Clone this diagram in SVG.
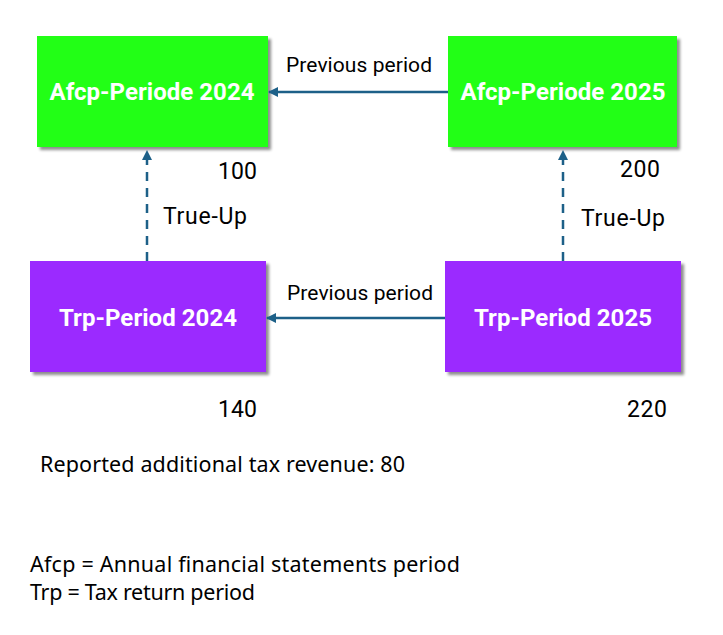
<svg xmlns="http://www.w3.org/2000/svg" width="723" height="635" viewBox="0 0 723 635">
<defs>
<filter id="sh" x="-10%" y="-10%" width="130%" height="130%">
<feGaussianBlur in="SourceAlpha" stdDeviation="1.5"/>
<feOffset dx="3" dy="3" result="b"/>
<feComponentTransfer><feFuncA type="linear" slope="0.45"/></feComponentTransfer>
<feMerge><feMergeNode/><feMergeNode in="SourceGraphic"/></feMerge>
</filter>
<marker id="ah" viewBox="0 0 10 10" refX="9" refY="5" markerWidth="4" markerHeight="4" orient="auto" markerUnits="strokeWidth">
<path d="M0,0 L10,5 L0,10 z" fill="#1d6088"/>
</marker>
</defs>
<style>
.box{filter:url(#sh)}
.g{fill:#22ff16}
.p{fill:#9b2bff}
.nt{font-family:Roboto,"Liberation Sans",sans-serif;font-weight:bold;font-size:24px;fill:#fff;text-anchor:middle}
.lb{font-family:Roboto,"Liberation Sans",sans-serif;font-size:21px;fill:#000}
.n{font-family:Roboto,"Liberation Sans",sans-serif;font-size:23px;fill:#000}
.ft{font-family:"Noto Sans","Open Sans",sans-serif;font-size:21.5px;fill:#000}
.c{stroke:#1d6088;stroke-width:2.5;fill:none;marker-end:url(#ah)}
.d{stroke-dasharray:9,7}
</style>
<rect width="723" height="635" fill="#fff"/>
<g id="afcp2024"><rect class="box g" x="37" y="36" width="231" height="111"/><text class="nt" x="152" y="100" textLength="205">Afcp-Periode 2024</text></g>
<g id="afcp2025"><rect class="box g" x="448" y="36" width="229" height="111"/><text class="nt" x="563" y="100" textLength="205">Afcp-Periode 2025</text></g>
<g id="trp2024"><rect class="box p" x="30" y="261" width="236" height="111"/><text class="nt" x="148" y="326" textLength="178">Trp-Period 2024</text></g>
<g id="trp2025"><rect class="box p" x="445" y="261" width="236" height="111"/><text class="nt" x="563" y="326" textLength="178">Trp-Period 2025</text></g>
<g id="connectors">
<line class="c" x1="448" y1="92" x2="269" y2="92"/>
<line class="c" x1="445" y1="318" x2="267" y2="318"/>
<line class="c d" x1="147" y1="261" x2="147" y2="151"/>
<line class="c d" x1="563" y1="261" x2="563" y2="151"/>
<text class="lb" x="359" y="72" text-anchor="middle" textLength="146">Previous period</text>
<text class="lb" x="360" y="300" text-anchor="middle" textLength="146">Previous period</text>
<text class="n" x="163" y="224" textLength="84">True-Up</text>
<text class="n" x="581" y="226" textLength="84">True-Up</text>
</g>
<g id="values">
<text class="n" x="218" y="179" textLength="39">100</text>
<text class="n" x="620" y="177" textLength="40">200</text>
<text class="n" x="218" y="417" textLength="39">140</text>
<text class="n" x="627" y="417" textLength="40">220</text>
</g>
<g id="notes">
<text class="ft" x="40" y="472" textLength="365">Reported additional tax revenue: 80</text>
<text class="ft" x="30" y="572" textLength="430">Afcp = Annual financial statements period</text>
<text class="ft" x="30" y="600" textLength="225">Trp = Tax return period</text>
</g>
</svg>
